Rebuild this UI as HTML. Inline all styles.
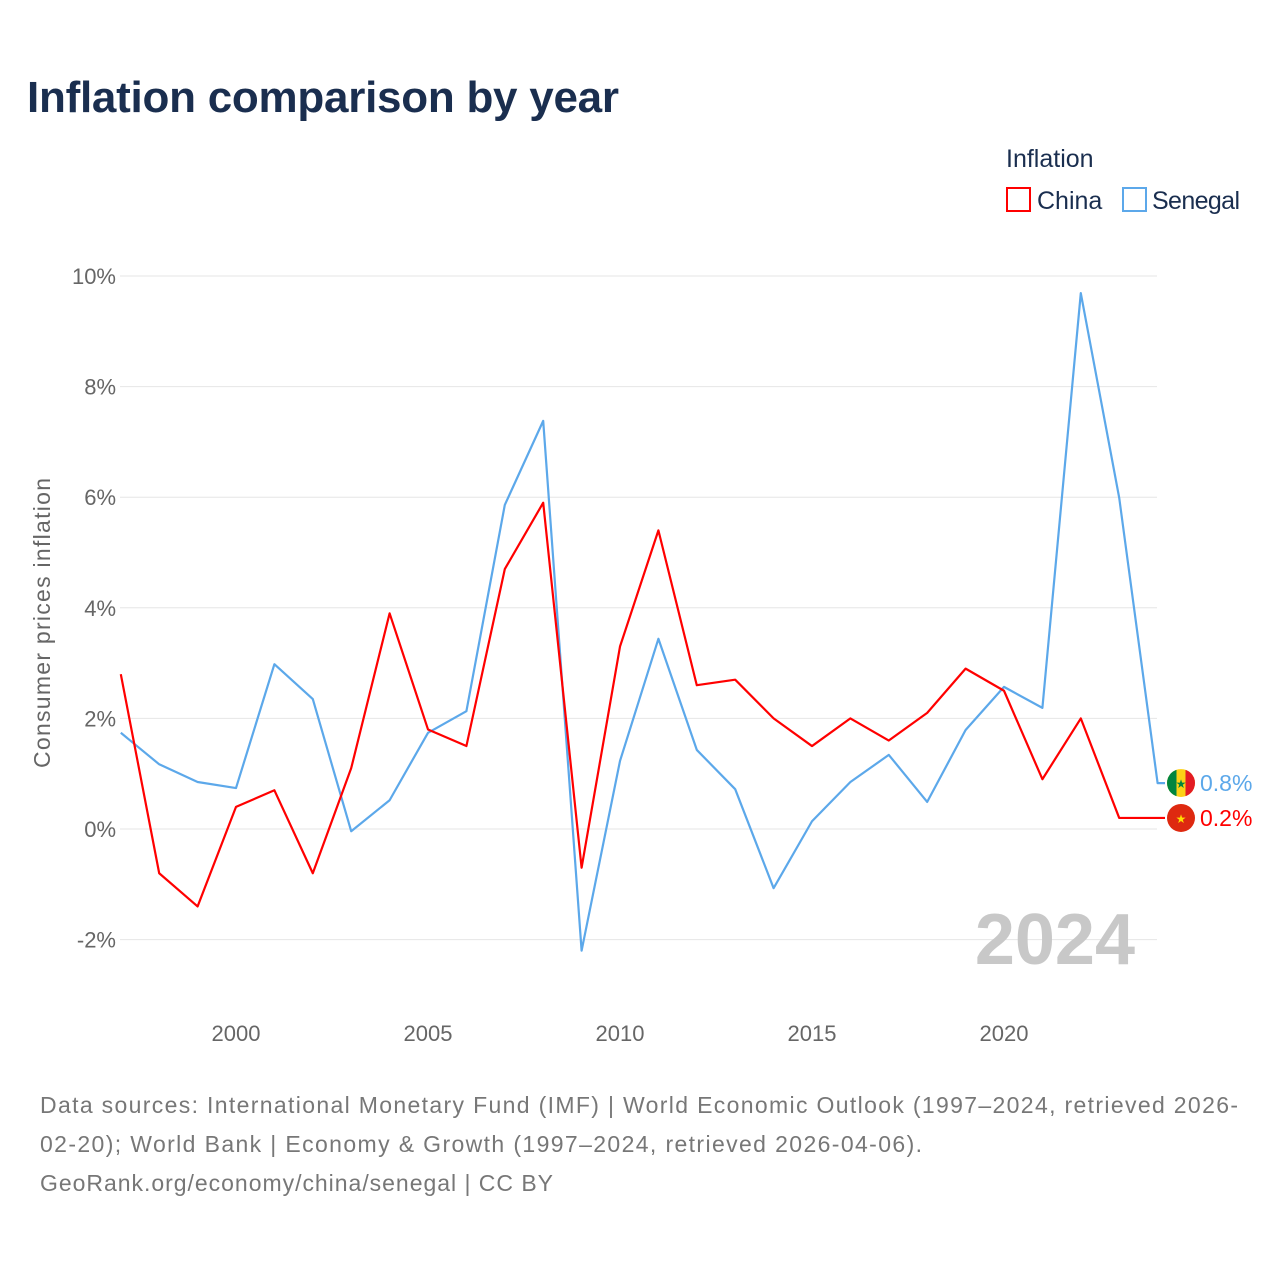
<!DOCTYPE html>
<html><head><meta charset="utf-8"><style>
body{margin:0;background:#fff;font-family:"Liberation Sans",sans-serif}
</style></head><body>
<svg id="chart" width="1280" height="1280" xmlns="http://www.w3.org/2000/svg">
<defs><clipPath id="sc"><circle cx="1181" cy="783" r="14"/></clipPath></defs>
<text x="27" y="112" font-size="44" font-weight="bold" fill="#1a2e4f" textLength="592">Inflation comparison by year</text>
<text x="1006" y="167" font-size="25" fill="#1a2e4f">Inflation</text>
<g><rect x="1007" y="188" width="23" height="23" fill="none" stroke="#f00" stroke-width="2"/><text x="1037" y="209" font-size="25" fill="#1a2e4f">China</text></g>
<g><rect x="1123" y="188" width="23" height="23" fill="none" stroke="#5ca8ea" stroke-width="2"/><text x="1152" y="209" font-size="25" fill="#1a2e4f" textLength="88">Senegal</text></g>
<text transform="translate(50,623) rotate(-90)" text-anchor="middle" font-size="23" fill="#666" textLength="290">Consumer prices inflation</text>
<g id="grid"></g><g id="xt"></g>
<text x="1135" y="964" text-anchor="end" font-size="72" font-weight="bold" fill="#c8c8c8">2024</text>
<g id="lines"></g>
<text x="40" y="1113" font-size="23" fill="#777" textLength="1198">Data sources: International Monetary Fund (IMF) | World Economic Outlook (1997–2024, retrieved 2026-</text>
<text x="40" y="1152" font-size="23" fill="#777" textLength="882">02-20); World Bank | Economy &amp; Growth (1997–2024, retrieved 2026-04-06).</text>
<text x="40" y="1191" font-size="23" fill="#777" textLength="513">GeoRank.org/economy/china/senegal | CC BY</text>
</svg>
<script>
const years=[1997,1998,1999,2000,2001,2002,2003,2004,2005,2006,2007,2008,2009,2010,2011,2012,2013,2014,2015,2016,2017,2018,2019,2020,2021,2022,2023,2024];
const china=[2.8,-0.8,-1.4,0.4,0.7,-0.8,1.1,3.9,1.8,1.5,4.7,5.9,-0.7,3.3,5.4,2.6,2.7,2.0,1.5,2.0,1.6,2.1,2.9,2.5,0.9,2.0,0.2,0.2];
const senegal=[1.74,1.17,0.85,0.74,2.98,2.35,-0.04,0.52,1.74,2.13,5.86,7.38,-2.2,1.23,3.44,1.43,0.72,-1.07,0.14,0.85,1.34,0.49,1.79,2.57,2.19,9.69,5.99,0.83];
const yTicks=[-2,0,2,4,6,8,10];
const xTicks=[2000,2005,2010,2015,2020];
const NS="http://www.w3.org/2000/svg";
const x=v=>120.8+(v-1997)*38.4;
const y=v=>829-v*55.3;
function mk(t,a,p){const e=document.createElementNS(NS,t);for(const k in a)e.setAttribute(k,a[k]);p.appendChild(e);return e;}
const grid=document.getElementById('grid');
yTicks.forEach(t=>{
 const l=mk('line',{x1:120,x2:1157,y1:y(t),y2:y(t),stroke:'#e6e6e6','stroke-width':1},grid);
 
 
 const tx=mk('text',{x:116,y:y(t)+8,'text-anchor':'end','font-size':22,fill:'#666'},grid);
 tx.textContent=t+'%';
 
 
});
const xt=document.getElementById('xt');
xTicks.forEach(t=>{
 const tx=mk('text',{x:x(t),y:1041,'text-anchor':'middle','font-size':22,fill:'#666'},xt);
 tx.textContent=t;
 
 
});
const lines=document.getElementById('lines');
function series(vals,col,name){
 const last=vals[vals.length-1],ly=y(last);
 const pts=vals.map((v,i)=>x(years[i])+','+y(v));
 pts.push('1165,'+ly);
 const p=mk('polyline',{points:pts.join(' '),fill:'none',stroke:col,'stroke-width':2.2,'stroke-linejoin':'round'},lines);
 
 
 const g=mk('g',{},lines);
 
 
 if(name==='senegal'){
  g.setAttribute('clip-path','url(#sc)');
  mk('rect',{x:1167,y:ly-14,width:28,height:28,fill:'#fcd116'},g);
  mk('rect',{x:1167,y:ly-14,width:9.5,height:28,fill:'#00853f'},g);
  mk('rect',{x:1185.5,y:ly-14,width:9.5,height:28,fill:'#e31b23'},g);
 } else {
  mk('circle',{cx:1181,cy:ly,r:14,fill:'#de2910'},g);
 }
 const s=mk('text',{x:1181,y:ly+5,'text-anchor':'middle','font-size':12,fill:name==='china'?'#ffde00':'#00853f'},g);s.textContent='★';
 const t=mk('text',{x:1200,y:ly+8,'font-size':23,fill:col},lines);
 t.textContent=last.toFixed(1)+'%';
 
 
}
series(senegal,'#5ca8ea','senegal');
series(china,'#f00','china');
</script>
</body></html>
